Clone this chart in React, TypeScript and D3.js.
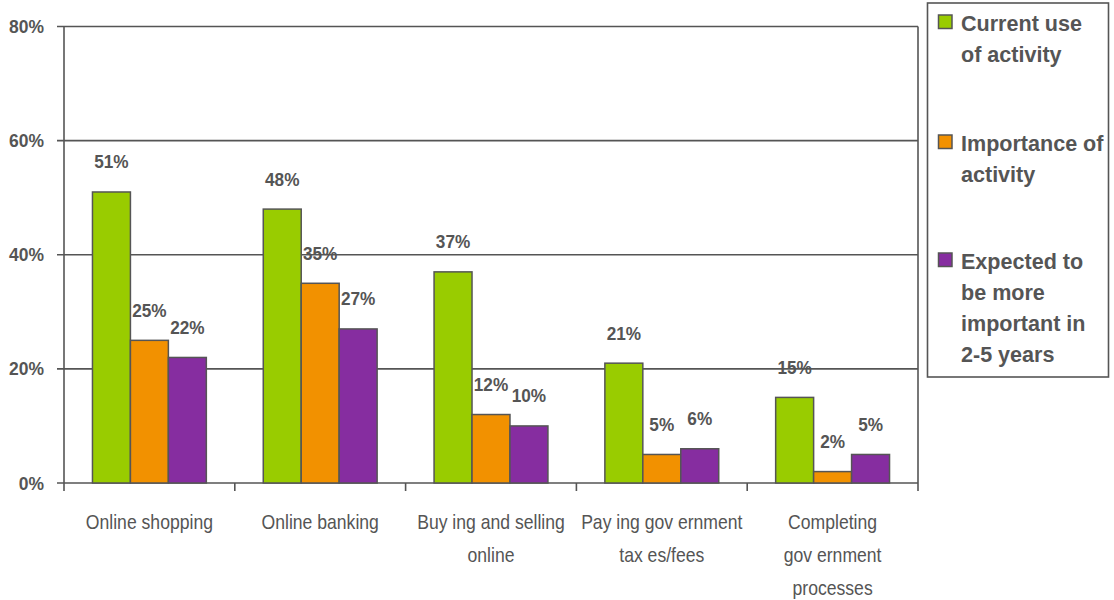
import React from "react";
import * as d3 from "d3";

const categories = [
  ["Online shopping"],
  ["Online banking"],
  ["Buy ing and selling", "online"],
  ["Pay ing gov ernment", "tax es/fees"],
  ["Completing", "gov ernment", "processes"],
];
const seriesNames = ["Current use of activity", "Importance of activity", "Expected to be more important in 2-5 years"];
const legendLines = [
  ["Current use", "of activity"],
  ["Importance of", "activity"],
  ["Expected to", "be more", "important in", "2-5 years"],
];
const currentUse = [51, 48, 37, 21, 15];
const importance = [25, 35, 12, 5, 2];
const expected = [22, 27, 10, 6, 5];
const yTicks = [0, 20, 40, 60, 80];
const colors = ["#99CC00", "#F29100", "#862DA0"];

const TXT = "#555555";
const FONT = "'Liberation Sans', Arial, sans-serif";

function T(props: { x: number; y: number; sx: number; size: number; bold?: boolean; anchor?: string; children: any }) {
  return (
    <text
      transform={`translate(${props.x},${props.y}) scale(${props.sx},1)`}
      textAnchor={props.anchor || "start"}
      fontSize={props.size}
      fontWeight={props.bold ? "bold" : "normal"}
      fill={TXT}
    >
      {props.children}
    </text>
  );
}

export default function App() {
  const left = 64, right = 918, top = 26.5, bottom = 483;
  const catKeys = categories.map((c) => c.join(" "));
  const x = d3.scaleBand<string>().domain(catKeys).range([left, right]).padding(0);
  const bw = x.bandwidth();
  const bar = bw / 4.5;
  const sub = d3.scaleBand<string>().domain(seriesNames).range([bar * 0.75, bar * 3.75]).padding(0);
  const y = d3.scaleLinear().domain([0, 80]).range([bottom, top]);
  const series = [currentUse, importance, expected];

  return (
    <svg width={1114} height={600} style={{ position: "absolute", left: 0, top: 0, background: "#fff" }} fontFamily={FONT}>
      {yTicks.map((t) => (
        <g key={t}>
          <line x1={left - 7} x2={right} y1={y(t)} y2={y(t)} stroke="#555" strokeWidth={1.6} />
          <T x={44} y={y(t) + 6.5} sx={0.92} size={19} bold anchor="end">
            {t}%
          </T>
        </g>
      ))}
      <line x1={left} x2={left} y1={top} y2={bottom + 8} stroke="#555" strokeWidth={1.6} />
      <line x1={right} x2={right} y1={top} y2={bottom + 8} stroke="#555" strokeWidth={1.6} />
      {catKeys.slice(1).map((k) => (
        <line key={k} x1={x(k)} x2={x(k)} y1={bottom} y2={bottom + 8} stroke="#555" strokeWidth={1.6} />
      ))}
      {catKeys.map((k, ci) => (
        <g key={k}>
          {series.map((vals, si) => {
            const bx = (x(k) as number) + (sub(seriesNames[si]) as number);
            const v = vals[ci];
            return (
              <g key={si}>
                <rect x={bx} y={y(v)} width={sub.bandwidth()} height={bottom - y(v)} fill={colors[si]} stroke="#555" strokeWidth={1.5} />
                <T x={bx + sub.bandwidth() / 2} y={y(v) - 23.5} sx={0.93} size={18.5} bold anchor="middle">
                  {v}%
                </T>
              </g>
            );
          })}
          {categories[ci].map((line, li) => (
            <T key={li} x={(x(k) as number) + bw / 2} y={529 + li * 33} sx={0.88} size={20} anchor="middle">
              {line}
            </T>
          ))}
        </g>
      ))}
      <rect x={927.5} y={3} width={181} height={374} fill="#fff" stroke="#555" strokeWidth={1.6} />
      {legendLines.map((lines, i) => {
        const sy = [15, 135, 253][i];
        return (
          <g key={i}>
            <rect x={938.5} y={sy} width={13.5} height={13.5} fill={colors[i]} stroke="#555" strokeWidth={1.5} />
            {lines.map((ln, li) => (
              <T key={li} x={961} y={sy + 16 + li * 31} sx={0.98} size={22} bold>
                {ln}
              </T>
            ))}
          </g>
        );
      })}
    </svg>
  );
}
